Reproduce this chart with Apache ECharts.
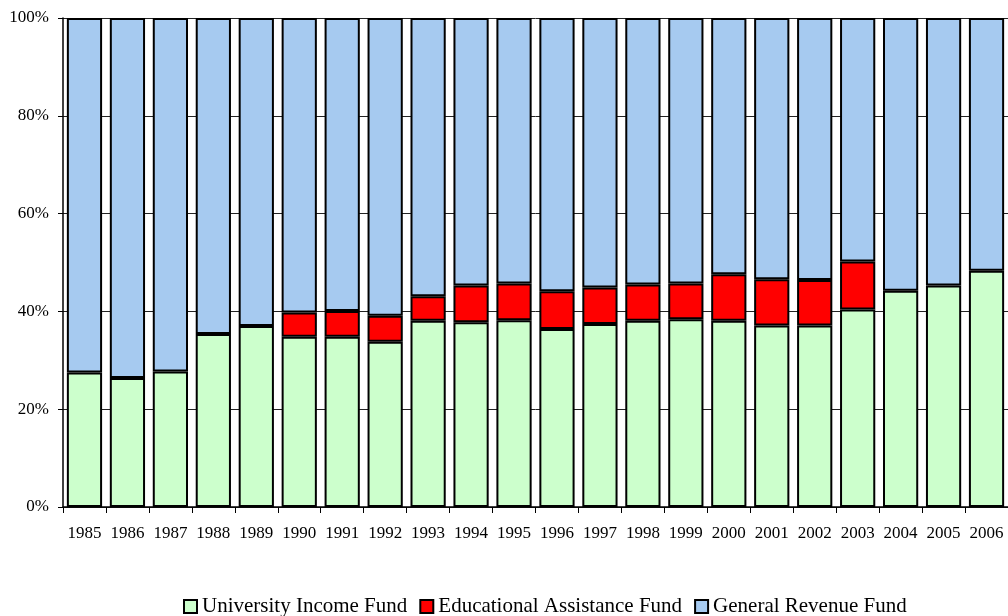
<!DOCTYPE html>
<html>
<head>
<meta charset="utf-8">
<script src="https://cdn.jsdelivr.net/npm/echarts@6/dist/echarts.min.js"></script>
<style>
html,body{margin:0;padding:0;background:#fff;}
#c{width:1008px;height:616px;}
</style>
</head>
<body>
<div id="c"></div>
<script>
var years = ['1985','1986','1987','1988','1989','1990','1991','1992','1993','1994','1995','1996','1997','1998','1999','2000','2001','2002','2003','2004','2005','2006'];
var universityIncome = [27.5,26.4,27.7,35.4,37.0,34.8,34.8,33.8,38.1,37.8,38.2,36.4,37.4,38.1,38.4,38.1,37.1,37.1,40.4,44.2,45.3,48.3];
var educationalAssistance = [null,null,null,null,null,5.0,5.3,5.3,5.0,7.5,7.5,7.7,7.5,7.4,7.3,9.5,9.5,9.3,9.8,null,null,null];
var generalRevenue = [72.5,73.6,72.3,64.6,63.0,60.2,59.9,60.9,56.9,54.7,54.3,55.9,55.1,54.5,54.3,52.4,53.4,53.6,49.8,55.8,54.7,51.7];
var yTicks = [0,20,40,60,80,100];

var font = 'Liberation Serif';
var chart = echarts.init(document.getElementById('c'));
function mk(name, data, color){
  return {
    name: name, type: 'bar', stack: 'total', data: data,
    barCategoryGap: '18%',
    itemStyle: {color: color, borderColor: '#000', borderWidth: 2},
    emphasis: {disabled: true}
  };
}
chart.setOption({
  animation: false,
  textStyle: {fontFamily: font},
  grid: {left: 63, top: 18, width: 953, height: 489, containLabel: false},
  legend: {
    left: 178, top: 591,
    itemWidth: 13, itemHeight: 13, itemGap: 12,
    icon: 'rect',
    textStyle: {fontFamily: font, fontSize: 21, color: '#000'},
    itemStyle: {borderColor: '#000', borderWidth: 2},
    data: ['University Income Fund','Educational Assistance Fund','General Revenue Fund']
  },
  xAxis: {
    type: 'category', data: years,
    axisLine: {lineStyle: {color: '#000', width: 1.5}},
    axisTick: {show: true, length: 6, interval: 0, lineStyle: {color: '#000'}},
    axisLabel: {fontFamily: font, fontSize: 17, color: '#000', margin: 18, interval: 0}
  },
  yAxis: {
    type: 'value', min: 0, max: 100, interval: 20,
    axisLine: {show: true, lineStyle: {color: '#000', width: 1.5}},
    axisTick: {show: true, length: 5, lineStyle: {color: '#000'}},
    axisLabel: {fontFamily: font, fontSize: 17, color: '#000', margin: 14, formatter: '{value}%'},
    splitLine: {show: true, lineStyle: {color: '#222', width: 1}}
  },
  series: [
    mk('University Income Fund', universityIncome, '#CCFFCC'),
    mk('Educational Assistance Fund', educationalAssistance, '#FF0000'),
    mk('General Revenue Fund', generalRevenue, '#A6CAF0')
  ]
});
</script>
</body>
</html>
